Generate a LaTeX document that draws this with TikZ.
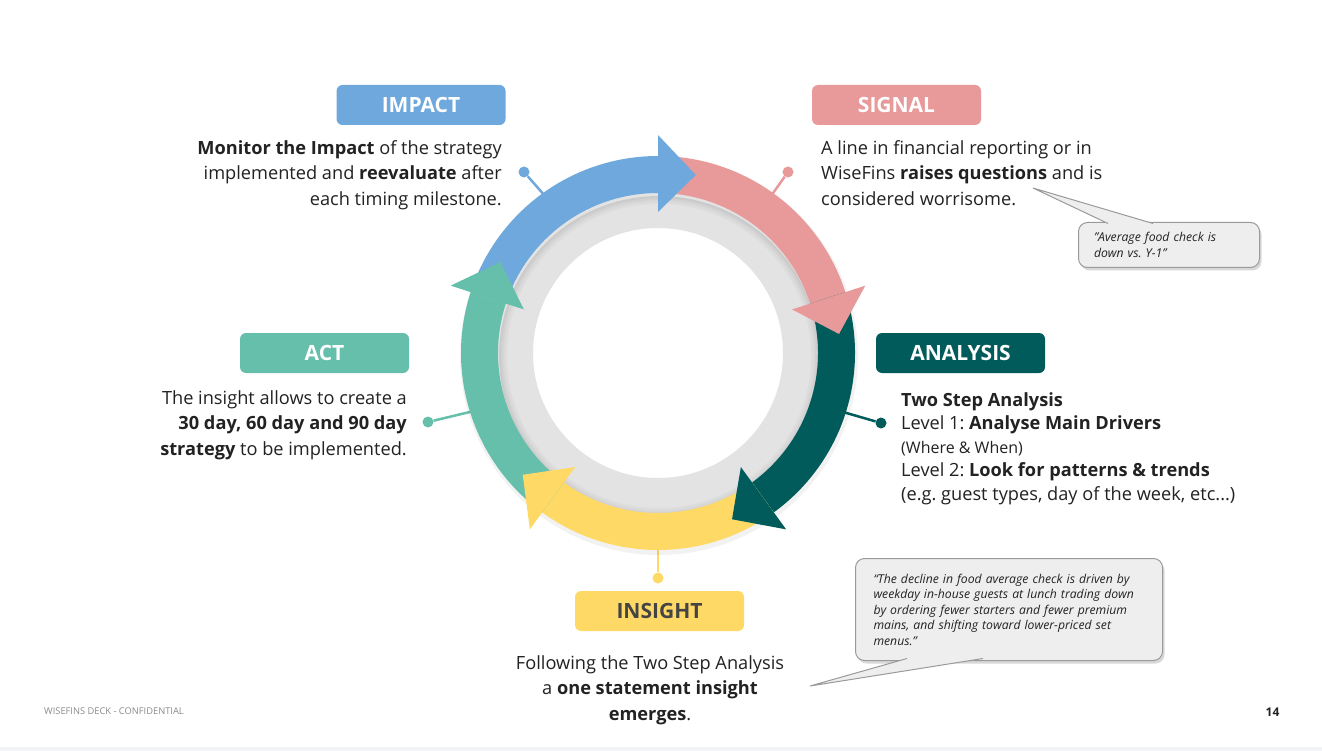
\documentclass[tikz,border=0pt]{standalone}
\usepackage{fontspec}
\setmainfont{Open Sans}
\usetikzlibrary{shadows}
\definecolor{cblue}{HTML}{6FA8DC}
\definecolor{cpink}{HTML}{E89999}
\definecolor{cdark}{HTML}{015B5A}
\definecolor{cteal}{HTML}{66BFAA}
\definecolor{cyellow}{HTML}{FFD966}
\definecolor{cgrey}{HTML}{E3E3E3}
\definecolor{ctext}{HTML}{222222}
\definecolor{ctitle}{HTML}{444444}
\definecolor{cfill}{HTML}{EEEEEE}
\definecolor{cborder}{HTML}{9A9A9A}
\definecolor{cfoot}{HTML}{8A8A8A}
\definecolor{cbar}{HTML}{F2F3F7}
\frenchspacing
\begin{document}
\begin{tikzpicture}[x=1pt,y=-1pt,
  tag/.style={rounded corners=6pt, minimum width=169pt, minimum height=40pt, inner sep=0pt,
    font=\bfseries\fontsize{21}{24}\selectfont, text=white},
  body/.style={inner sep=0pt, font=\fontsize{18.2}{25.8}\selectfont, text=ctext},
  dot/.style={circle, inner sep=0pt, minimum size=11pt},
  conn/.style={line width=2.5pt},
  bubble/.style={rounded corners=9pt, fill=cfill, draw=cborder, line width=1pt,
    drop shadow={opacity=0.3, shadow xshift=2pt, shadow yshift=-3pt},
    font=\itshape\fontsize{12.2}{15.5}\selectfont, text=ctext, align=left, anchor=north west},
  pointer/.style={cborder, line width=1pt, line join=miter}]
\useasboundingbox (0,0) rectangle (1322,751);
\fill[white] (0,0) rectangle (1322,751);
\fill[cbar] (0,747) rectangle (1322,751);

% connectors (drawn below ring)
\coordinate (rimp) at (545,196);
\coordinate (rsig) at (771,196);
\coordinate (rana) at (843,412);
\coordinate (ract) at (474,411);
\coordinate (rins) at (658,546);
\node[dot, fill=cblue] (dimp) at (524,172) {};
\node[dot, fill=cpink] (dsig) at (788,172) {};
\node[dot, fill=cdark] (dana) at (881,423) {};
\node[dot, fill=cteal] (dact) at (428,422) {};
\node[dot, fill=cyellow] (dins) at (658,578) {};
\draw[conn, cblue] (rimp) -- (dimp);
\draw[conn, cpink] (rsig) -- (dsig);
\draw[conn, cdark] (rana) -- (dana);
\draw[conn, cteal] (ract) -- (dact);
\draw[conn, cyellow] (rins) -- (dins);

% cycle ring
\begin{scope}[shift={(658,353)}, y=1pt]
  \fill[black, opacity=0.05, even odd rule] (1,-3) circle[radius=199] (1,-3) circle[radius=150];
  \fill[cgrey, even odd rule] (0,0) circle[radius=164] (0,0) circle[radius=125];
  \foreach \r/\o in {159/0.10, 157/0.07, 155/0.045, 153/0.025}
    \draw[black, opacity=\o, line width=2pt] (1,-3) circle[radius=\r];
  \foreach \c/\s/\e in {cblue/162/90, cpink/90/18, cdark/18/-54, cyellow/-54/-126, cteal/234/162}
    \fill[\c] (\s:197) arc[start angle=\s, end angle=\e, radius=197]
      -- (\e:160) arc[start angle=\e, end angle=\s, radius=160] -- cycle;
  \foreach \c/\b in {cteal/162, cblue/90, cpink/18, cdark/-54, cyellow/-126}
    \fill[\c] (\b:141) -- (\b:218) -- ({\b-12}:182) -- cycle;
\end{scope}

% stage tags
\node[tag, fill=cblue] (timp) at (421,105) {IMPACT};
\node[tag, fill=cpink] (tsig) at (896.5,105) {SIGNAL};
\node[tag, fill=cdark] (tana) at (960.5,353) {ANALYSIS};
\node[tag, fill=cteal] (tact) at (324.5,353) {ACT};
\node[tag, fill=cyellow, text=ctitle] (tins) at (659.5,611) {INSIGHT};

% texts
\node[body, align=right, anchor=north east] (ximp) at (502,140)
  {\textbf{Monitor the Impact} of the strategy\\ implemented and \textbf{reevaluate} after\\ each timing milestone.};
\node[body, align=left, anchor=north west] (xsig) at (821,140)
  {A line in financial reporting or in\\ WiseFins \textbf{raises questions} and is\\ considered worrisome.};
\node[body, align=left, anchor=north west, font=\fontsize{18.2}{23.6}\selectfont] (xana) at (901,392)
  {\textbf{Two Step Analysis}\\ Level 1: \textbf{Analyse Main Drivers}\\ {\fontsize{16}{16}\selectfont (Where \& When)}\\ Level 2: \textbf{Look for patterns \& trends}\\ (e.g. guest types, day of the week, etc...)};
\node[body, align=right, anchor=north east] (xact) at (407,390)
  {The insight allows to create a\\ \textbf{30 day, 60 day and 90 day}\\ \textbf{strategy} to be implemented.};
\node[body, align=center, anchor=north] (xins) at (650,655)
  {Following the Two Step Analysis\\ a \textbf{one statement insight}\\ \textbf{emerges}.};

% callouts
\node[bubble, minimum width=181pt, minimum height=45pt, inner xsep=15.5pt, inner ysep=4pt, text width=150pt] (c1) at (1078,222)
  {"Average food check is\\ down vs. Y-1"};
\coordinate (c1a) at (1108,223.5);
\coordinate (c1t) at (1033,188);
\coordinate (c1b) at (1153,223.5);
\fill[cfill] (c1a) -- (c1t) -- (c1b) -- cycle;
\draw[pointer] (c1a) -- (c1t) -- (c1b);

\node[bubble, minimum width=307pt, minimum height=102pt, inner xsep=18pt, inner ysep=4pt, text width=271pt] (c2) at (855,558)
  {“The decline in food average check is driven by\\ weekday in-house guests at lunch trading down\\ by ordering fewer starters and fewer premium\\ mains, and shifting toward lower-priced set\\ menus.”};
\coordinate (c2a) at (907,658.5);
\coordinate (c2t) at (810,686);
\coordinate (c2b) at (983,658.5);
\fill[cfill] (c2a) -- (c2t) -- (c2b) -- cycle;
\draw[pointer] (c2a) -- (c2t) -- (c2b);

% footer
\node[anchor=west, inner sep=0pt, font=\fontsize{9.3}{11}\selectfont, text=cfoot] (foot) at (44,711) {WISEFINS DECK - CONFIDENTIAL};
\node[inner sep=0pt, font=\bfseries\fontsize{12}{14}\selectfont, text=ctext] (page) at (1272.5,712) {14};
\end{tikzpicture}
\end{document}
